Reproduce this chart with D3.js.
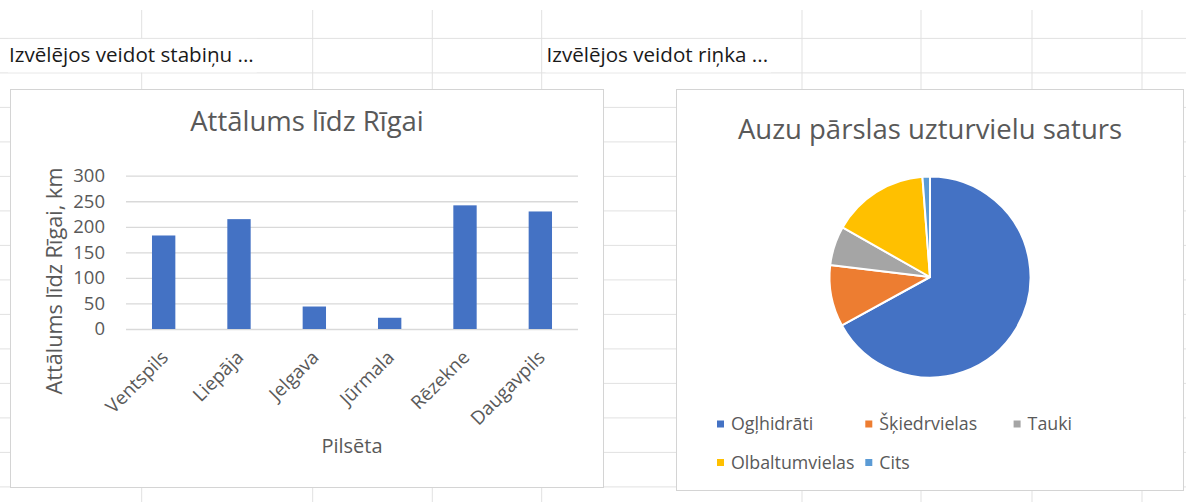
<!DOCTYPE html>
<html>
<head>
<meta charset="utf-8">
<script src="https://cdn.jsdelivr.net/npm/d3@7"></script>
<style>
  html, body { margin: 0; padding: 0; background: #fff; }
  svg { display: block; font-family: "Open Sans", Lato, sans-serif; }
</style>
</head>
<body>
<svg id="sheet" width="1186" height="502"></svg>
<script>
// Distance from Riga (km) per city
const cities = ["Ventspils", "Liepāja", "Jelgava", "Jūrmala", "Rēzekne", "Daugavpils"];
const distances = [183, 215, 44, 22, 242, 230];
const distanceTicks = [0, 50, 100, 150, 200, 250, 300];

// Nutrient composition of oat flakes (%)
const nutrients = ["Ogļhidrāti", "Šķiedrvielas", "Tauki", "Olbaltumvielas", "Cits"];
const nutrientShares = [67, 9.9, 6.3, 15.6, 1.2];
const nutrientColors = ["#4472C4", "#ED7D31", "#A5A5A5", "#FFC000", "#5B9BD5"];

// Worksheet backdrop
const sheetColumns = [141.7, 312.7, 432.3, 541.7, 802, 921, 1032, 1142];
const sheetRowTop = 38.4, sheetRowHeight = 34.5;

const FONT = "'Open Sans', Lato, sans-serif";
const svg = d3.select("#sheet");
const W = 1186, H = 502;

// --- worksheet grid ---
const grid = svg.append("g").attr("stroke", "#e1e1e1").attr("stroke-width", 1);
d3.range(sheetRowTop, H, sheetRowHeight).forEach(y => {
  grid.append("line").attr("x1", 0).attr("x2", W).attr("y1", y).attr("y2", y);
});
sheetColumns.forEach(x => {
  grid.append("line").attr("x1", x).attr("x2", x).attr("y1", 10).attr("y2", H);
});

// cell texts (overflowing cells hide the gridlines behind them)
function cellText(x, text) {
  const t = svg.append("text").attr("x", x).attr("y", 61.5)
    .attr("font-size", 20.6).attr("fill", "#1a1a1a").text(text);
  const w = t.node().getComputedTextLength();
  svg.insert("rect", "text").attr("x", x - 1).attr("y", sheetRowTop + 0.5)
    .attr("width", w + 4).attr("height", sheetRowHeight - 1).attr("fill", "#fff");
}
cellText(9, "Izvēlējos veidot stabiņu ...");
cellText(546.5, "Izvēlējos veidot riņka ...");

// --- column chart ---
const bar = svg.append("g");
bar.append("rect").attr("x", 10.5).attr("y", 89.5).attr("width", 593).attr("height", 398)
  .attr("fill", "#fff").attr("stroke", "#d4d4d4");

const x = d3.scaleBand().domain(cities).range([126, 578]).paddingInner(0.69).paddingOuter(0.345);
const y = d3.scaleLinear().domain([0, 300]).range([329, 175.7]);

bar.append("text").attr("x", 307).attr("y", 131).attr("text-anchor", "middle")
  .attr("font-size", 27.5).attr("fill", "#595959").text("Attālums līdz Rīgai");

const yAxis = d3.axisLeft(y).tickValues(distanceTicks).tickSize(-(578 - 126)).tickPadding(21);
const gy = bar.append("g").attr("transform", "translate(126,0)").call(yAxis);
gy.select(".domain").remove();
gy.selectAll(".tick line").attr("stroke", "#d9d9d9").attr("stroke-width", 1.3);
gy.selectAll(".tick text").attr("font-size", 18.5).attr("fill", "#595959")
  .attr("font-family", FONT);

bar.append("g").selectAll("rect").data(distances).join("rect")
  .attr("x", (d, i) => x(cities[i]))
  .attr("width", x.bandwidth())
  .attr("y", d => y(d))
  .attr("height", d => y(0) - y(d))
  .attr("fill", "#4472C4");

const xAxis = d3.axisBottom(x).tickSize(0).tickPadding(0);
const gx = bar.append("g").attr("transform", "translate(0,329)").call(xAxis);
gx.select(".domain").remove();
gx.selectAll(".tick text")
  .attr("font-size", 18.8).attr("fill", "#595959").attr("font-family", FONT)
  .attr("text-anchor", "end").attr("dy", "0.35em")
  .attr("transform", "translate(1,25) rotate(-45)");

bar.append("text").attr("x", 352).attr("y", 453).attr("text-anchor", "middle")
  .attr("font-size", 20).attr("fill", "#595959").text("Pilsēta");

bar.append("text").attr("transform", "translate(61.5,281) rotate(-90)")
  .attr("text-anchor", "middle").attr("font-size", 21.7).attr("fill", "#595959")
  .text("Attālums līdz Rīgai, km");

// --- pie chart ---
const pieG = svg.append("g");
pieG.append("rect").attr("x", 676.5).attr("y", 89.5).attr("width", 507).attr("height", 401)
  .attr("fill", "#fff").attr("stroke", "#d4d4d4");

pieG.append("text").attr("x", 930).attr("y", 138.5).attr("text-anchor", "middle")
  .attr("font-size", 27.5).attr("fill", "#595959").text("Auzu pārslas uzturvielu saturs");

const pie = d3.pie().sort(null).value(d => d)(nutrientShares);
const arc = d3.arc().innerRadius(0).outerRadius(100.5);
pieG.append("g").attr("transform", "translate(930,277)")
  .selectAll("path").data(pie).join("path")
  .attr("d", arc)
  .attr("fill", (d, i) => nutrientColors[i])
  .attr("stroke", "#fff").attr("stroke-width", 2).attr("stroke-linejoin", "round");

// legend: three items in the first row, the rest below
const legend = pieG.append("g");
nutrients.forEach((name, i) => {
  const col = i < 3 ? i : i - 3;
  const row = i < 3 ? 0 : 1;
  const lx = 717 + col * 148.3;
  const ly = 424 + row * 38.5;
  legend.append("rect").attr("x", lx).attr("y", ly - 3.5).attr("width", 7).attr("height", 7)
    .attr("fill", nutrientColors[i]);
  legend.append("text").attr("x", lx + 14).attr("y", ly).attr("dy", "0.35em")
    .attr("font-size", 17.8).attr("fill", "#595959").text(name);
});
</script>
</body>
</html>
